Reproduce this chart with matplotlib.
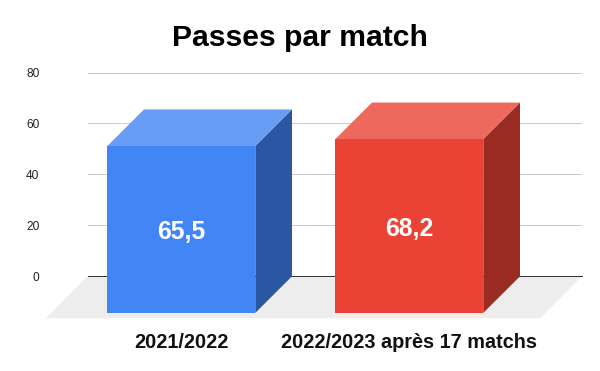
import numpy as np
import matplotlib
matplotlib.use("Agg")
import matplotlib.pyplot as plt

categories = ["2021/2022", "2022/2023 après 17 matchs"]
values = [65.5, 68.2]
value_labels = ["65,5", "68,2"]
y_ticks = [0, 20, 40, 60, 80]
title = "Passes par match"

front_colors = ["#4285F4", "#EA4335"]
top_colors = ["#689DF6", "#EE695D"]
side_colors = ["#2B56A1", "#992B23"]

W, H = 600, 371
plt.rcParams["font.family"] = ["Liberation Sans", "DejaVu Sans"]
fig = plt.figure(figsize=(W / 100, H / 100), dpi=100, facecolor="white")
L, R, T, B = 87.5, 581.7, 72.5, 276.3
ax = fig.add_axes([L / W, 1 - B / H, (R - L) / W, (B - T) / H])

px_x = 228.0            # pixels per category
px_y = (B - T) / 80.0   # pixels per value unit
x0 = (218.0 - L) / px_x
ax.set_xlim(-x0, (R - L) / px_x - x0)
ax.set_ylim(0, 80)
xlim = ax.get_xlim()

x = np.arange(len(categories), dtype=float)
bar_w = 148.0 / px_x
dx, dy = 36.7 / px_x, 36.6 / px_y         # bar depth
fx, fy = 41.6 / px_x, 42.0 / px_y         # floor depth

ax.set_axisbelow(True)
ax.grid(axis="y", color="#CCCCCC", linewidth=0.72, zorder=0)
ax.grid(axis="x", visible=False)
for s in ["top", "left", "right"]:
    ax.spines[s].set_visible(False)
ax.spines["bottom"].set_color("#333333")
ax.spines["bottom"].set_linewidth(0.72)
ax.spines["bottom"].set_zorder(1.5)

# floor
ax.fill([xlim[0], xlim[1], xlim[1] - fx, xlim[0] - fx], [0, 0, -fy, -fy],
        color="#EDEDED", lw=0, clip_on=False, zorder=1)

# bars
ax.bar(x - dx, values, width=bar_w, bottom=-dy, color=front_colors,
       linewidth=0, clip_on=False, zorder=3)
for xi, v, tc, sc, lab in zip(x, values, top_colors, side_colors, value_labels):
    l, r = xi - bar_w / 2, xi + bar_w / 2
    # side face
    ax.fill([r - dx, r, r, r - dx], [-dy, 0, v, v - dy],
            color=sc, lw=0, clip_on=False, zorder=2.5)
    # top face
    ax.fill([l - dx, r - dx, r, l], [v - dy, v - dy, v, v],
            color=tc, lw=0, clip_on=False, zorder=2.5)
    ax.text(xi - dx, v / 2 - dy, lab, color="white", fontsize=17.8, fontweight="bold",
            ha="center", va="center_baseline", zorder=4)

ax.set_yticks(y_ticks)
ax.set_yticklabels([str(t) for t in y_ticks], fontsize=8.6, color="#222222")
ax.tick_params(axis="y", length=0, pad=34.7)
ax.set_xticks(x - dx)
ax.set_xticklabels(categories, fontsize=14.3, fontweight="bold", color="#111111")
ax.tick_params(axis="x", length=0, pad=40.5)

fig.text(0.5, 1 - 38.5 / H, title, ha="center", va="center",
         fontsize=21.7, fontweight="bold", color="black")

fig.savefig("out.png", dpi=100, facecolor="white")
